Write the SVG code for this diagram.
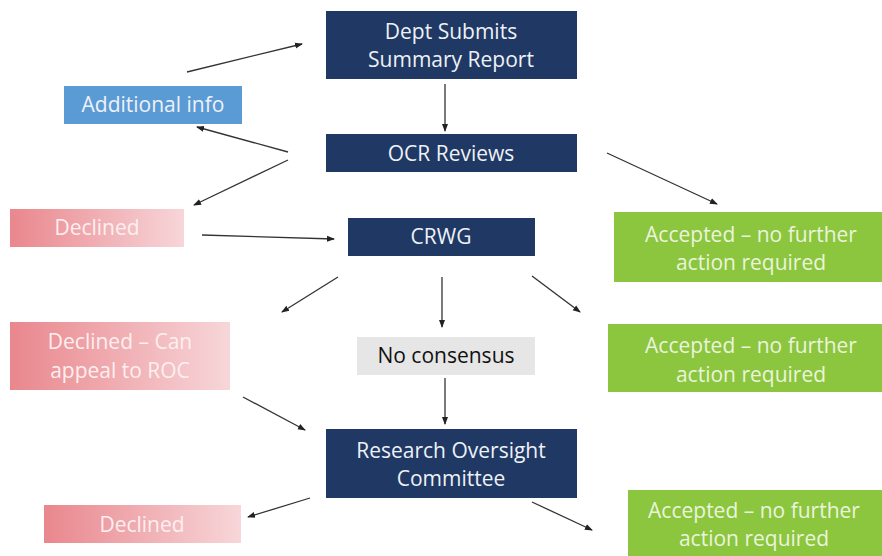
<svg xmlns="http://www.w3.org/2000/svg" width="882" height="556" viewBox="0 0 882 556">
<defs>
<style>
.navy{fill:#1F3864}
.green{fill:#8CC63F}
.t{font-family:"Open Sans","Liberation Sans",sans-serif;font-size:21px;text-anchor:middle}
.tw{fill:#EEF1F6}
.tg{fill:#EAF4DC}
.td{fill:#FDEFF0}
.tk{fill:#111111}
.c{stroke:#333333;stroke-width:1.3;fill:none;marker-end:url(#ah)}
</style>
<linearGradient id="red" x1="0" y1="0" x2="1" y2="0">
<stop offset="0" stop-color="#E9878D"/>
<stop offset="1" stop-color="#F7D6D9"/>
</linearGradient>
<marker id="ah" markerWidth="8" markerHeight="8" refX="7" refY="4" orient="auto" markerUnits="userSpaceOnUse">
<path d="M0,1 L8,4 L0,7 Z" fill="#222222"/>
</marker>
</defs>
<rect width="882" height="556" fill="#FFFFFF"/>
<g id="dept">
<rect class="navy" x="326" y="11" width="251" height="68"/>
<text class="t tw" x="451" y="39">Dept Submits</text>
<text class="t tw" x="451" y="67">Summary Report</text>
</g>
<g id="addinfo">
<rect fill="#5B9BD5" x="64" y="86" width="178" height="38"/>
<text class="t tw" x="153" y="112">Additional info</text>
</g>
<g id="ocr">
<rect class="navy" x="326" y="134" width="251" height="38"/>
<text class="t tw" x="451" y="161">OCR Reviews</text>
</g>
<g id="declined1">
<rect fill="url(#red)" x="10" y="209" width="174" height="38"/>
<text class="t td" x="97" y="235">Declined</text>
</g>
<g id="crwg">
<rect class="navy" x="348" y="218" width="187" height="38"/>
<text class="t tw" x="441" y="244">CRWG</text>
</g>
<g id="accepted1">
<rect class="green" x="614" y="212" width="268" height="70"/>
<text class="t tg" x="751" y="242">Accepted – no further</text>
<text class="t tg" x="751" y="270">action required</text>
</g>
<g id="declined2">
<rect fill="url(#red)" x="10" y="322" width="220" height="68"/>
<text class="t td" x="120" y="349">Declined – Can</text>
<text class="t td" x="120" y="378">appeal to ROC</text>
</g>
<g id="noconsensus">
<rect fill="#E7E6E6" x="357" y="337" width="178" height="38"/>
<text class="t tk" x="446" y="363">No consensus</text>
</g>
<g id="accepted2">
<rect class="green" x="608" y="324" width="274" height="68"/>
<text class="t tg" x="751" y="353">Accepted – no further</text>
<text class="t tg" x="751" y="382">action required</text>
</g>
<g id="roc">
<rect class="navy" x="326" y="429" width="251" height="69"/>
<text class="t tw" x="451" y="458">Research Oversight</text>
<text class="t tw" x="451" y="486">Committee</text>
</g>
<g id="declined3">
<rect fill="url(#red)" x="44" y="505" width="197" height="38"/>
<text class="t td" x="142" y="532">Declined</text>
</g>
<g id="accepted3">
<rect class="green" x="628" y="490" width="254" height="66"/>
<text class="t tg" x="754" y="518">Accepted – no further</text>
<text class="t tg" x="754" y="546">action required</text>
</g>
<g id="connectors">
<line class="c" x1="187" y1="72" x2="302" y2="44"/>
<line class="c" x1="445" y1="84" x2="445" y2="131"/>
<line class="c" x1="288" y1="152" x2="197" y2="127"/>
<line class="c" x1="288" y1="160" x2="194" y2="205"/>
<line class="c" x1="607" y1="153" x2="717" y2="204"/>
<line class="c" x1="202" y1="235" x2="334" y2="239"/>
<line class="c" x1="338" y1="277" x2="282" y2="312"/>
<line class="c" x1="442" y1="277" x2="442" y2="327"/>
<line class="c" x1="532" y1="276" x2="580" y2="312"/>
<line class="c" x1="243" y1="397" x2="305" y2="430"/>
<line class="c" x1="445" y1="378" x2="445" y2="424"/>
<line class="c" x1="310" y1="498" x2="248" y2="517"/>
<line class="c" x1="532" y1="502" x2="592" y2="530"/>
</g>
</svg>
